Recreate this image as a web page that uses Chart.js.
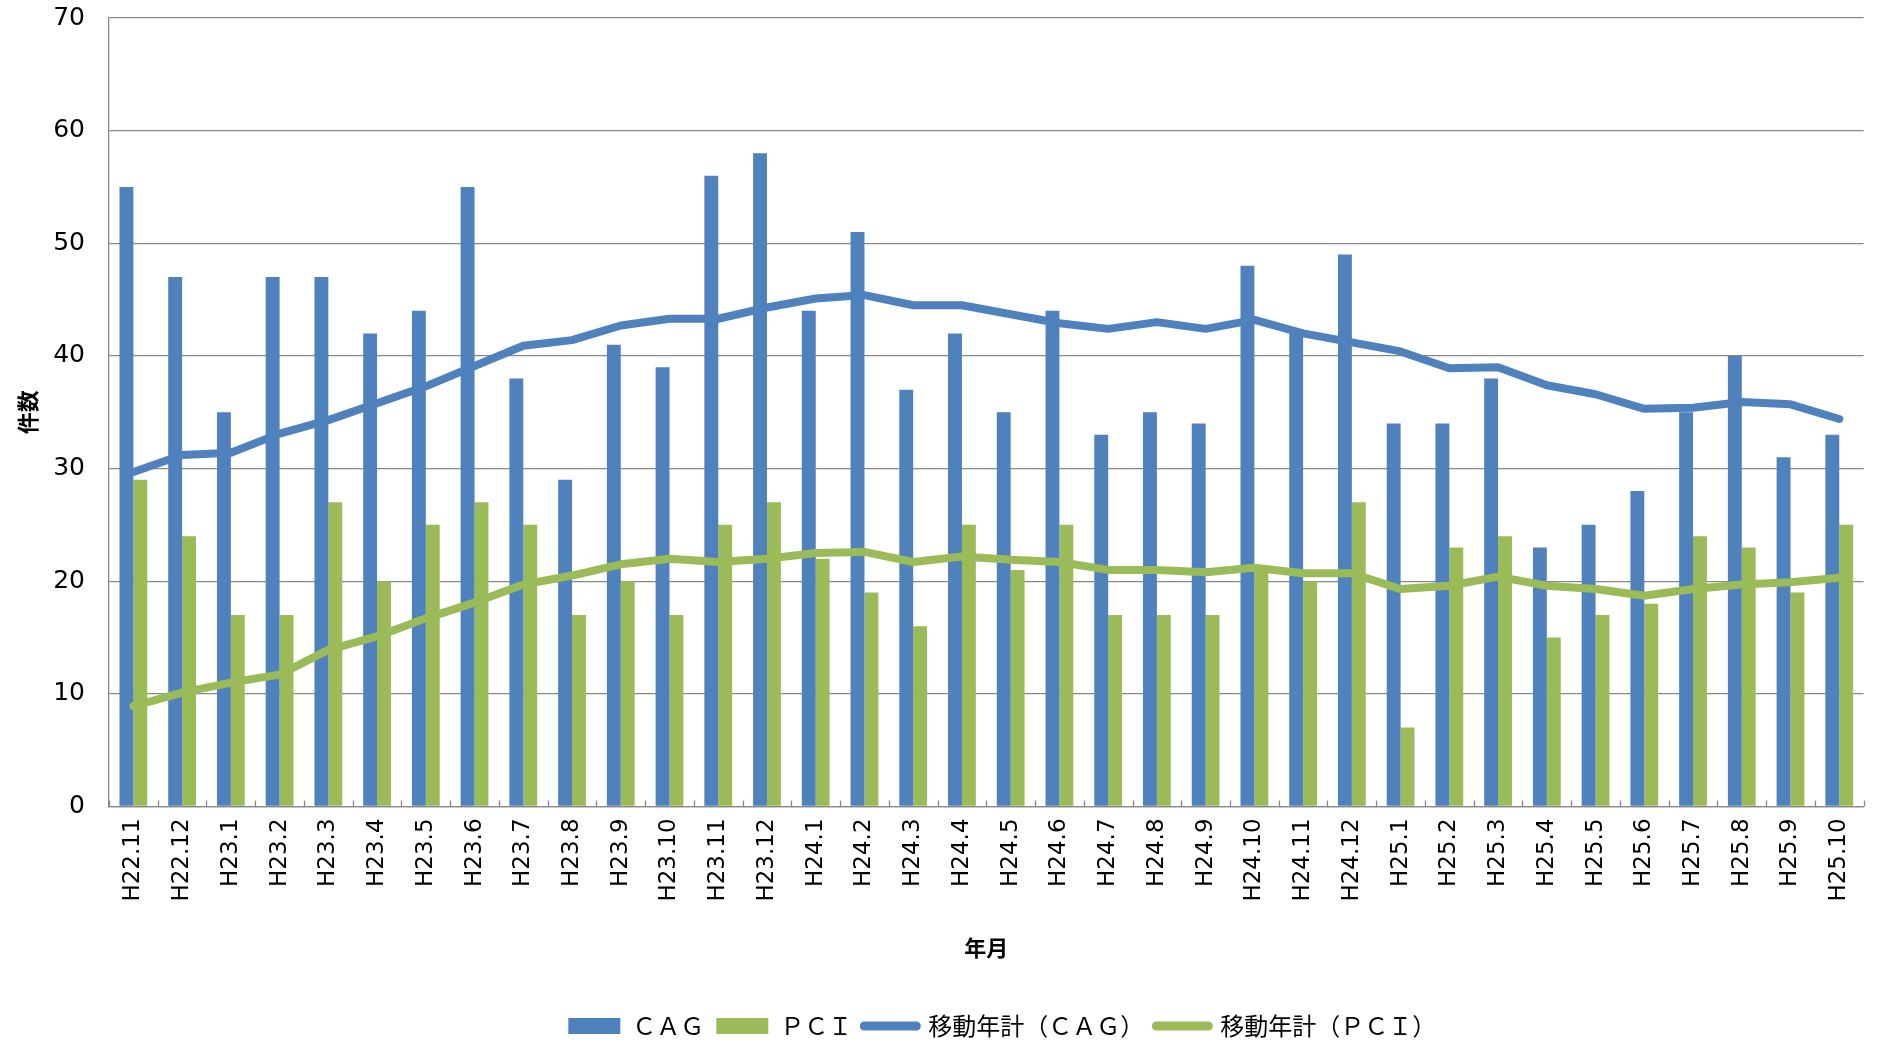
<!DOCTYPE html>
<html>
<head>
<meta charset="utf-8">
<script src="https://cdn.jsdelivr.net/npm/chart.js@4/dist/chart.umd.min.js"></script>
<style>
  html, body { margin: 0; padding: 0; background: #fff; }
  #wrap { width: 1879px; height: 1046px; }
</style>
</head>
<body>
<div id="wrap"><canvas id="chart" width="1879" height="1046"></canvas></div>
<script>
// 年月
const months = ['H22.11', 'H22.12', 'H23.1', 'H23.2', 'H23.3', 'H23.4', 'H23.5', 'H23.6', 'H23.7', 'H23.8',
    'H23.9', 'H23.10', 'H23.11', 'H23.12', 'H24.1', 'H24.2', 'H24.3', 'H24.4', 'H24.5', 'H24.6',
    'H24.7', 'H24.8', 'H24.9', 'H24.10', 'H24.11', 'H24.12', 'H25.1', 'H25.2', 'H25.3', 'H25.4',
    'H25.5', 'H25.6', 'H25.7', 'H25.8', 'H25.9', 'H25.10'];

// 件数
const cag = [55, 47, 35, 47, 47, 42, 44, 55, 38, 29, 41, 39, 56, 58, 44, 51, 37, 42, 35, 44,
    33, 35, 34, 48, 42, 49, 34, 34, 38, 23, 25, 28, 35, 40, 31, 33];
const pci = [29, 24, 17, 17, 27, 20, 25, 27, 25, 17, 20, 17, 25, 27, 22, 19, 16, 25, 21, 25,
    17, 17, 17, 21, 20, 27, 7, 23, 24, 15, 17, 18, 24, 23, 19, 25];

// 移動年計
const cagMoving = [29.7, 31.2, 31.4, 33.1, 34.3, 35.8, 37.3, 39.1, 40.9, 41.4, 42.7, 43.3, 43.3, 44.3, 45.1, 45.4,
    44.5, 44.5, 43.7, 42.9, 42.4, 43.0, 42.4, 43.2, 42.0, 41.2, 40.4, 38.9, 39.0, 37.4, 36.6, 35.3,
    35.4, 35.9, 35.7, 34.4];
const pciMoving = [8.9, 10.1, 11.0, 11.7, 13.9, 15.1, 16.7, 18.1, 19.7, 20.5, 21.5, 22.0, 21.7, 22.0, 22.5, 22.6,
    21.7, 22.2, 21.9, 21.7, 21.0, 21.0, 20.8, 21.2, 20.7, 20.7, 19.3, 19.6, 20.4, 19.6, 19.3, 18.7,
    19.3, 19.7, 19.9, 20.3];

const yTicks = [0, 10, 20, 30, 40, 50, 60, 70];

const BLUE = '#4F81BD';
const GREEN = '#9BBB59';
const GRID = '#888888';

// x軸の内向き目盛り
const insideTicks = {
    id: 'insideTicks',
    afterDatasetsDraw(chart) {
        const x = chart.scales.x;
        const area = chart.chartArea;
        const ctx = chart.ctx;
        const step = x.getPixelForValue(1) - x.getPixelForValue(0);
        ctx.save();
        ctx.strokeStyle = GRID;
        ctx.lineWidth = 1.3;
        ctx.beginPath();
        for (let i = 0; i <= months.length; i++) {
            const px = Math.round(x.getPixelForValue(i) - step / 2) + 0.5;
            ctx.moveTo(px, area.bottom);
            ctx.lineTo(px, area.bottom - 6);
        }
        ctx.stroke();
        ctx.restore();
    }
};

// 凡例を少し右へ
const legendShift = {
    id: 'legendShift',
    afterLayout(chart) {
        if (chart.legend) {
            chart.legend.left += 16;
            chart.legend.right += 16;
        }
    }
};

new Chart(document.getElementById('chart'), {
    data: {
        labels: months,
        datasets: [
            { type: 'line', label: '移動年計（ＣＡＧ）', data: cagMoving, borderColor: BLUE, backgroundColor: BLUE,
              borderWidth: 8, pointRadius: 0, tension: 0, borderCapStyle: 'round', borderJoinStyle: 'round', order: 1 },
            { type: 'line', label: '移動年計（ＰＣＩ）', data: pciMoving, borderColor: GREEN, backgroundColor: GREEN,
              borderWidth: 8, pointRadius: 0, tension: 0, borderCapStyle: 'round', borderJoinStyle: 'round', order: 1 },
            { type: 'bar', label: 'ＣＡＧ', data: cag, backgroundColor: BLUE,
              barPercentage: 1, categoryPercentage: 0.57, order: 2 },
            { type: 'bar', label: 'ＰＣＩ', data: pci, backgroundColor: GREEN,
              barPercentage: 1, categoryPercentage: 0.57, order: 2 }
        ]
    },
    options: {
        responsive: false,
        animation: false,
        devicePixelRatio: 1,
        layout: { padding: { left: 14, right: 10, top: 18, bottom: -2 } },
        scales: {
            x: {
                grid: { display: false, drawTicks: false },
                border: { color: GRID, width: 1.3 },
                ticks: { color: '#000', font: { family: 'DejaVu Sans', size: 23 }, maxRotation: 90, minRotation: 90,
                         padding: 12, autoSkip: false },
                title: { display: true, text: '年月', color: '#000',
                         font: { family: 'Noto Sans CJK JP', size: 22, weight: 'bold' }, padding: { top: 21, bottom: 41 } }
            },
            y: {
                min: 0, max: 70,
                afterBuildTicks(scale) { scale.ticks = yTicks.map(v => ({ value: v })); },
                afterFit(scale) {
                    scale.width = 95;
                    scale.paddingTop = 0;
                    scale.paddingBottom = 0;
                },
                grid: { color: GRID, lineWidth: 1.3, drawTicks: false },
                border: { color: GRID, width: 1.3 },
                ticks: { color: '#000', font: { family: 'DejaVu Sans', size: 25 }, padding: 24 },
                title: { display: true, text: '件数', color: '#000',
                         font: { family: 'Noto Sans CJK JP', size: 22, weight: 'bold' }, padding: { top: 0, bottom: 14 } }
            }
        },
        plugins: {
            legend: {
                position: 'bottom',
                fullSize: false,
                labels: {
                    color: '#000',
                    font: { family: 'Noto Sans CJK JP', size: 24 },
                    boxWidth: 52, boxHeight: 16, padding: 12,
                    usePointStyle: true, pointStyleWidth: 52,
                    generateLabels(chart) {
                        const rank = [2, 3, 0, 1];
                        return chart.data.datasets.map((ds, i) => ({
                            text: ds.label,
                            datasetIndex: i,
                            fillStyle: ds.backgroundColor,
                            strokeStyle: ds.type === 'line' ? ds.borderColor : ds.backgroundColor,
                            lineWidth: ds.type === 'line' ? 9 : 0,
                            lineCap: 'round',
                            pointStyle: ds.type === 'line' ? 'line' : 'rect',
                            hidden: false
                        })).sort((a, b) => rank[a.datasetIndex] - rank[b.datasetIndex]);
                    }
                }
            },
            tooltip: { enabled: false }
        }
    },
    plugins: [insideTicks, legendShift]
});
</script>
</body>
</html>
